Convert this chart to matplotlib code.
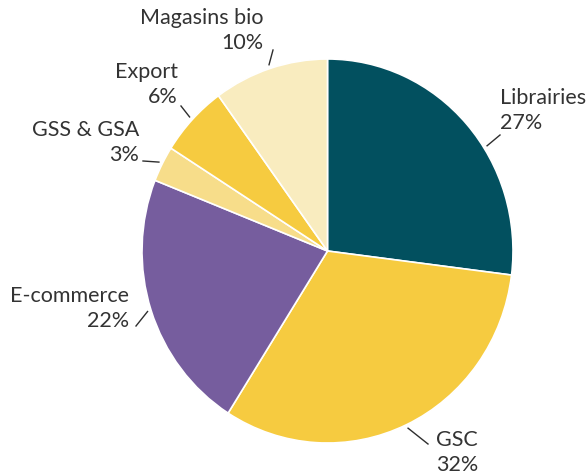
import numpy as np
import matplotlib.pyplot as plt

labels = ["Librairies", "GSC", "E-commerce", "GSS & GSA", "Export", "Magasins bio"]
shares = [27, 32, 22, 3, 6, 10]
colors = ["#02505f", "#f6cb40", "#765d9e", "#f7dd8a", "#f6cb40", "#f9ecbf"]

# label layout in pixels (from top-left): edge angle of leader, leader end, text anchor, alignment
lead_ang = [32.5, None, None, None, None, None]
lead_end = [(500, 136), (428, 445), (136, 327), (143, 162), (181, 107), (273, 51)]
txt_pos = [(500, 98), (436, 440), (129, 296), (139, 130), (178, 72), (263, 18)]
txt_ha = ["left", "left", "right", "right", "right", "right"]

W, H = 588, 477
cx, cy = 327.5, 252
rx, ry = 185.5, 192  # pie is slightly taller than wide


def px(x, y):
    return (x - cx) / rx, (cy - y) / ry


fig = plt.figure(figsize=(W / 100, H / 100), dpi=100)
ax = fig.add_axes([0, 0, 1, 1])

wedges, _ = ax.pie(shares, colors=colors, startangle=90, counterclock=False,
                   wedgeprops=dict(edgecolor="white", linewidth=1.2))
ax.set_xlim(-cx / rx, (W - cx) / rx)
ax.set_ylim(-(H - cy) / ry, cy / ry)
ax.set_aspect("auto")
ax.axis("off")

font = dict(family=["Lato", "DejaVu Sans"], size=15.5, color="#333333")

for i, w in enumerate(wedges):
    a = lead_ang[i] if lead_ang[i] is not None else (w.theta1 + w.theta2) / 2
    x0 = 1.02 * np.cos(np.radians(a))
    y0 = 1.02 * np.sin(np.radians(a))
    x1, y1 = px(*lead_end[i])
    ax.plot([x0, x1], [y0, y1], color="#2e2e2e", lw=1.0)
    tx, ty = px(*txt_pos[i])
    ax.text(tx, ty, labels[i], ha=txt_ha[i], va="center", **font)
    tx, ty = px(txt_pos[i][0], txt_pos[i][1] + 25)
    ax.text(tx, ty, f"{shares[i]}%", ha=txt_ha[i], va="center", **font)

plt.savefig("out.png", dpi=100)
